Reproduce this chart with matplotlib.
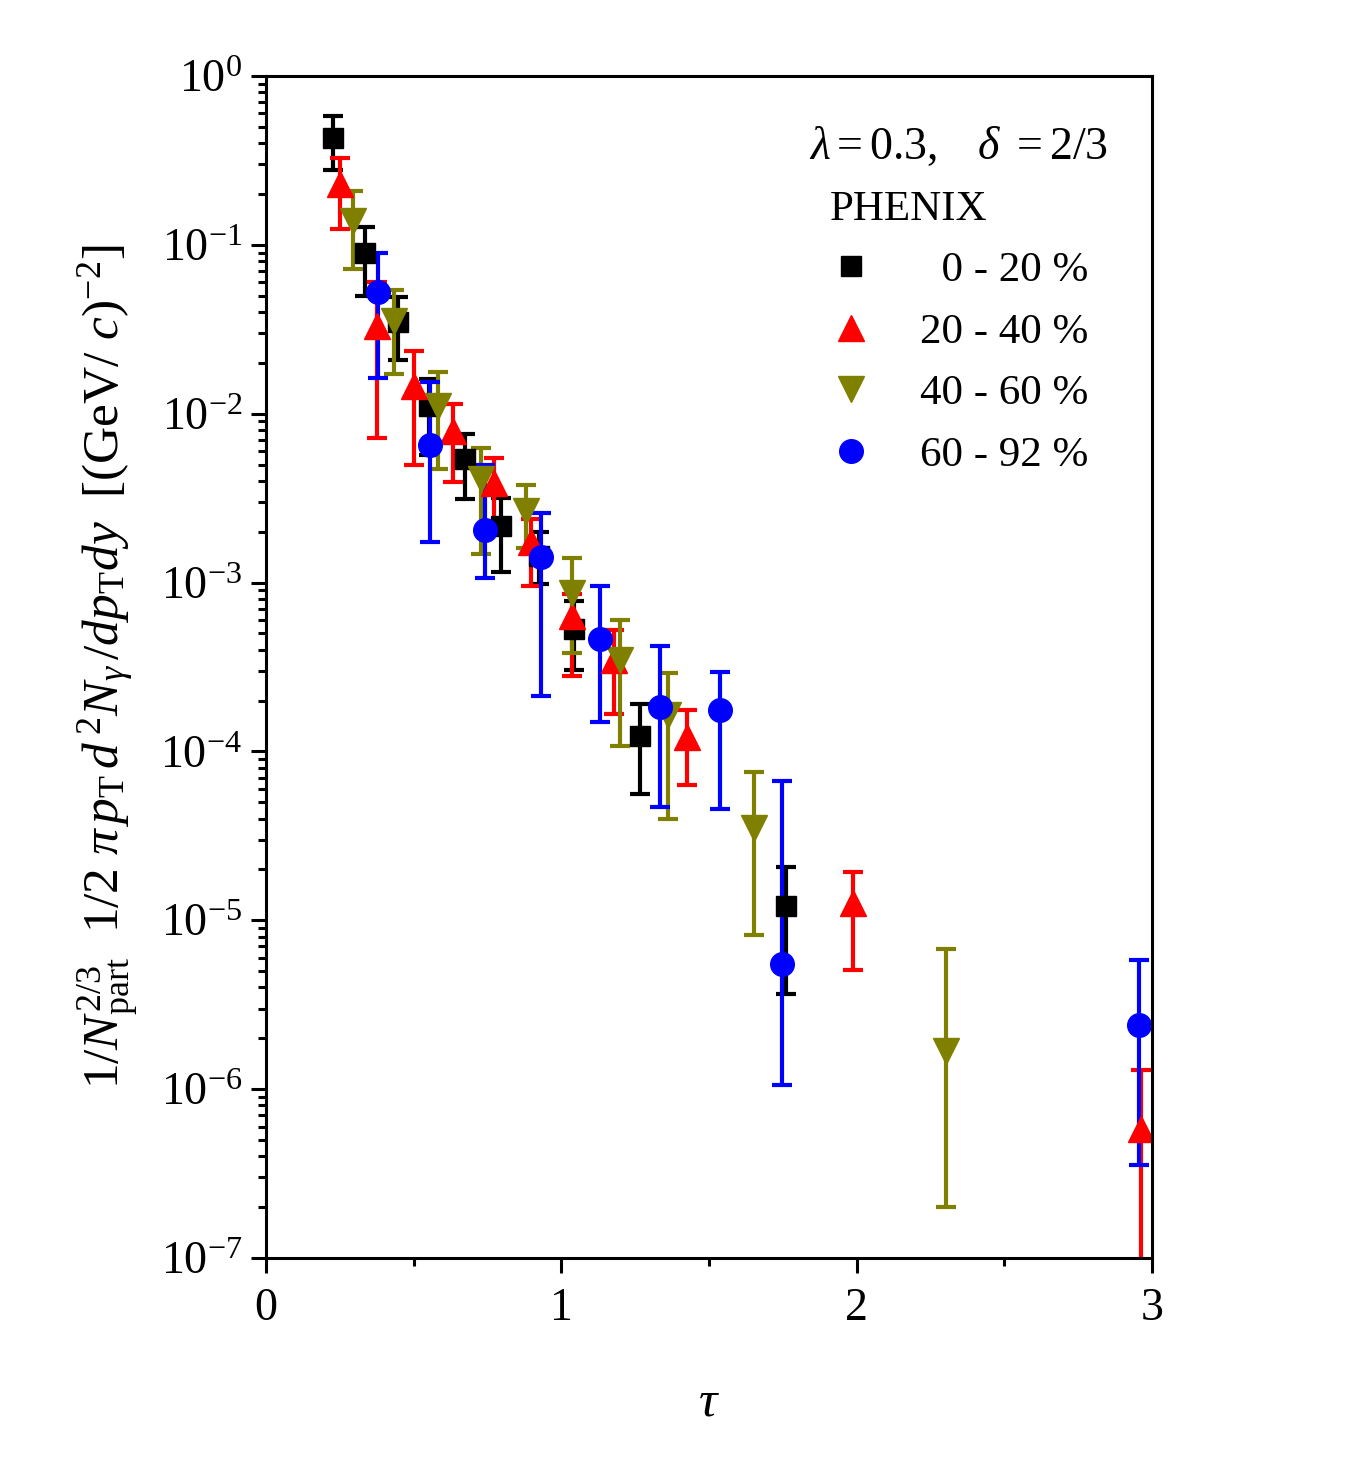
import matplotlib
matplotlib.use('Agg')
import matplotlib.pyplot as plt
from matplotlib.lines import Line2D
from matplotlib.ticker import FixedLocator, LogLocator, NullFormatter, FuncFormatter
import numpy as np

plt.rcParams['font.family'] = ['Liberation Serif', 'DejaVu Serif']
plt.rcParams['mathtext.fontset'] = 'custom'
plt.rcParams['mathtext.rm'] = 'Liberation Serif'
plt.rcParams['mathtext.it'] = 'Liberation Serif:italic'
plt.rcParams['mathtext.bf'] = 'Liberation Serif:bold'

# data: tau, value, upper and lower end of error bar
x_c1 = [0.227, 0.335, 0.446, 0.551, 0.673, 0.795, 0.923, 1.042, 1.268, 1.762]
y_c1 = [0.43, 0.089, 0.0348, 0.0111, 0.00537, 0.00215, 0.00143, 5.27e-4, 1.24e-4, 1.22e-5]
hi_c1 = [0.58, 0.127, 0.049, 0.016, 0.00755, 0.00315, 0.0020, 7.8e-4, 1.92e-4, 2.08e-5]
lo_c1 = [0.277, 0.0497, 0.0207, 0.0057, 0.00311, 0.00116, 0.00098, 3.05e-4, 5.6e-5, 3.65e-6]

x_c2 = [0.250, 0.375, 0.500, 0.632, 0.772, 0.896, 1.035, 1.177, 1.427, 1.989, 2.964]
y_c2 = [0.229, 0.033, 0.0145, 0.00787, 0.0039, 0.00174, 6.3e-4, 3.5e-4, 1.22e-4, 1.27e-5, 5.77e-7]
hi_c2 = [0.327, 0.060, 0.0234, 0.0114, 0.00544, 0.00237, 8.6e-4, 5.2e-4, 1.75e-4, 1.94e-5, 1.30e-6]
lo_c2 = [0.124, 0.0072, 0.0050, 0.00392, 0.0022, 0.00095, 2.78e-4, 1.67e-4, 6.36e-5, 5.04e-6, 1e-8]

x_c3 = [0.294, 0.433, 0.582, 0.727, 0.879, 1.038, 1.200, 1.363, 1.654, 2.303]
y_c3 = [0.138, 0.0353, 0.0111, 0.00408, 0.00264, 8.7e-4, 3.5e-4, 1.65e-4, 3.52e-5, 1.69e-6]
hi_c3 = [0.208, 0.054, 0.0176, 0.0063, 0.00377, 0.00139, 5.97e-4, 2.93e-4, 7.5e-5, 6.8e-6]
lo_c3 = [0.0718, 0.0171, 0.0047, 0.00147, 0.0016, 3.85e-4, 1.07e-4, 3.95e-5, 8.2e-6, 2.0e-7]

x_c4 = [0.379, 0.555, 0.741, 0.933, 1.130, 1.333, 1.539, 1.749, 2.956]
y_c4 = [0.0524, 0.0065, 0.00204, 0.00141, 4.6e-4, 1.84e-4, 1.75e-4, 5.5e-6, 2.4e-6]
hi_c4 = [0.0893, 0.0153, 0.00494, 0.00257, 9.6e-4, 4.18e-4, 2.97e-4, 6.7e-5, 5.83e-6]
lo_c4 = [0.0162, 0.00173, 0.00107, 2.14e-4, 1.5e-4, 4.7e-5, 4.58e-5, 1.06e-6, 3.57e-7]

labels = ['\u20070 - 20 %', '20 - 40 %', '40 - 60 %', '60 - 92 %']
colors = ['black', '#ff0000', '#808000', '#0000ff']
markers = ['s', '^', 'v', 'o']
sizes = [14, 19, 19, 17]

series = [(x_c1, y_c1, hi_c1, lo_c1), (x_c2, y_c2, hi_c2, lo_c2),
          (x_c3, y_c3, hi_c3, lo_c3), (x_c4, y_c4, hi_c4, lo_c4)]

fig = plt.figure(figsize=(13.61, 14.78), dpi=100)
ax = fig.add_axes([0.1954, 0.1489, 0.6510, 0.7997])

for (x, y, hi, lo), c, m, s in zip(series, colors, markers, sizes):
    y = np.array(y)
    err = [y - np.array(lo), np.array(hi) - y]
    ax.errorbar(x, y, yerr=err, fmt=m, color=c, ms=s, mec=c, elinewidth=3,
                capsize=7.5, capthick=3)

ax.set_yscale('log')
ax.set_xlim(0, 3)
ax.set_ylim(1e-7, 1)

ax.xaxis.set_major_locator(FixedLocator([0, 1, 2, 3]))
ax.xaxis.set_minor_locator(FixedLocator([0.5, 1.5, 2.5]))
ax.yaxis.set_major_locator(LogLocator(base=10, numticks=20))
ax.yaxis.set_minor_locator(LogLocator(base=10, subs=np.arange(2, 10), numticks=20))
ax.yaxis.set_minor_formatter(NullFormatter())
ax.yaxis.set_major_formatter(FuncFormatter(
    lambda v, p: r'$\mathregular{10^{%d}}$' % int(round(np.log10(v)))))

ax.tick_params(which='both', direction='out', top=False, right=False, width=2.2)
ax.tick_params(which='major', length=11, labelsize=33, pad=6)
ax.tick_params(which='minor', length=6)
ax.tick_params(axis='x', which='major', pad=10)
for sp in ax.spines.values():
    sp.set_linewidth(2.2)

ax.set_xlabel(r'$\tau$', fontsize=37, labelpad=36)
ax.set_ylabel(r'$1/N_{\rm part}^{2/3}\ \ 1/2\ \pi\, p_{\rm T}\, d^{\,2}N_{\gamma}\,/dp_{\rm T}dy\ \ [({\rm GeV}/\ c)^{-2}]$',
              fontsize=37, labelpad=14)

ax.text(0.950, 0.940, r'$\lambda = 0.3,\ \ \ \delta\ = 2/3$', transform=ax.transAxes,
        fontsize=33, ha='right', va='center')

handles = [Line2D([], [], ls='none', marker=m, color=c, ms=s)
           for c, m, s in zip(colors, markers, sizes)]
leg = ax.legend(handles, labels, title='PHENIX', loc='upper right',
                bbox_to_anchor=(0.972, 0.936), frameon=False, fontsize=31,
                title_fontsize=31, alignment='left', handletextpad=1.1,
                labelspacing=0.52, handlelength=1.0)

fig.savefig('out.png', dpi=100)
